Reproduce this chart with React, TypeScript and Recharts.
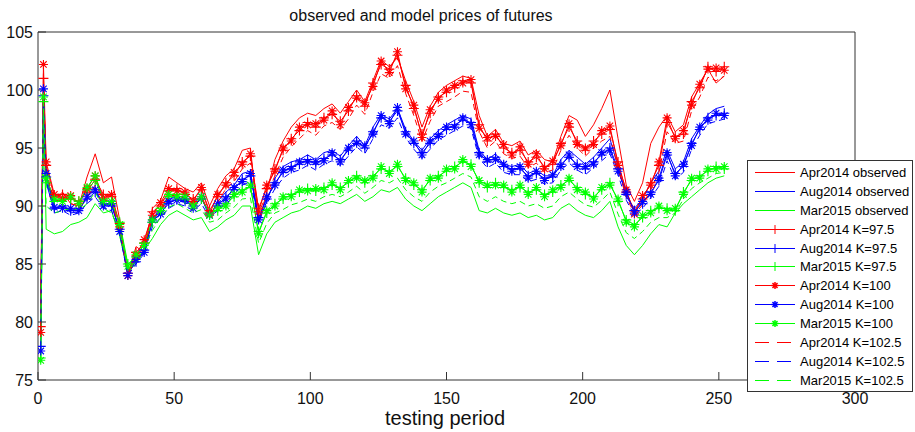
import React from 'react';
import { LineChart, Line, XAxis, YAxis, Legend } from 'recharts';

const days = [1,2,3,6,9,12,15,18,21,24,27,30,33,36,39,42,45,48,51,54,57,60,63,66,69,72,75,78,81,84,87,90,93,96,99,102,105,108,111,114,117,120,123,126,129,132,135,138,141,144,147,150,153,156,159,162,165,168,171,174,177,180,183,186,189,192,195,198,201,204,207,210,213,216,219,222,225,228,231,234,237,240,243,246,249,252];

const aprObserved = [
82.5,100.5,92.5,90.5,91.2,90.2,90.0,92.5,94.5,92.0,
92.5,88.8,84.0,86.5,86.0,89.8,90.5,92.5,92.0,91.5,
91.2,92.0,90.0,91.5,92.6,93.2,94.8,95.0,88.5,91.2,
94.0,95.6,96.8,97.6,98.0,97.8,98.4,98.8,98.0,99.0,
100.0,99.0,100.8,102.6,102.0,102.8,100.8,99.0,96.8,98.6,
99.8,100.4,100.8,101.2,101.0,97.8,96.0,96.6,95.4,95.2,
95.6,94.4,94.8,94.0,93.8,96.0,97.8,97.4,96.0,97.0,
98.4,100.0,95.8,91.8,90.4,92.0,95.4,96.8,97.8,96.4,
97.0,99.4,100.6,101.8,100.6,101.2];
const augObserved = [
81.5,99.2,92.0,89.6,90.2,89.4,89.5,90.9,91.6,90.0,
90.4,87.6,84.4,85.6,86.0,88.9,89.6,90.6,90.9,90.2,
90.3,90.8,89.0,90.4,91.2,91.8,92.8,93.0,88.6,90.4,
92.4,93.4,93.8,94.0,94.4,94.0,94.6,94.8,94.3,95.2,
96.0,95.2,96.8,97.9,97.5,98.4,96.6,95.6,94.8,95.8,
96.5,97.0,97.4,97.8,97.5,94.8,94.0,94.5,93.6,93.4,
93.6,92.8,93.1,92.6,92.6,94.0,94.8,94.2,93.6,94.2,
95.0,95.8,93.4,90.8,89.8,90.6,92.0,93.0,94.8,93.2,
93.8,95.8,96.9,97.9,98.4,98.6];
const marObserved = [
80.5,99.8,88.0,87.6,87.8,88.4,88.6,89.0,90.2,89.4,
89.6,87.4,84.4,85.0,86.2,87.2,88.4,89.2,89.6,89.2,
88.8,89.0,87.8,88.2,88.8,89.2,90.0,90.0,85.8,87.6,
88.6,89.0,89.4,89.6,90.0,89.8,90.2,90.4,90.2,90.6,
91.0,90.4,90.8,91.4,91.2,91.6,90.6,90.0,89.6,90.2,
90.8,91.2,91.6,92.0,91.6,89.6,89.4,89.8,89.4,89.2,
89.4,89.0,89.2,88.8,89.0,89.8,90.2,89.6,89.2,89.0,
89.6,90.4,88.2,86.6,85.8,86.6,87.6,88.4,88.2,89.4,
90.2,90.8,91.4,92.0,92.4,92.6];
const aprK975 = [
79.6,101.0,93.5,90.8,91.0,90.6,90.4,91.2,92.3,91.0,
90.8,88.5,84.2,86.0,86.8,89.5,90.0,91.3,91.5,91.0,
90.6,91.4,89.6,90.8,92.0,92.6,93.8,94.3,89.8,91.5,
93.2,94.8,95.8,96.5,97.2,96.8,97.6,97.9,97.3,98.2,
99.5,98.6,100.6,102.2,101.8,103.0,100.4,98.4,96.2,98.0,
99.4,99.8,100.2,100.8,100.6,97.0,95.6,96.2,95.0,94.6,
94.8,93.8,94.2,93.4,93.6,95.4,96.8,95.6,94.8,95.6,
96.2,96.6,93.8,91.2,89.6,90.6,92.0,93.5,97.2,96.0,
96.2,99.0,100.2,102.0,101.6,102.0];
const augK975 = [
77.9,99.5,92.5,89.8,90.0,89.6,89.8,90.6,91.2,90.2,
90.0,88.0,84.2,85.2,86.2,88.6,89.4,90.2,90.6,90.4,
90.0,90.6,89.4,90.0,90.8,91.4,92.3,92.6,89.0,90.6,
92.0,92.9,93.4,93.6,94.0,93.6,94.1,94.4,94.0,94.8,
95.6,95.0,96.4,97.6,97.3,98.2,96.4,95.4,94.6,95.4,
96.2,96.6,97.0,97.4,97.2,94.6,93.8,94.2,93.4,93.2,
93.2,92.6,92.8,92.4,92.5,93.6,94.2,93.6,93.2,93.8,
94.4,95.0,93.2,91.0,89.6,90.2,91.2,92.2,94.4,92.8,
93.4,95.4,96.6,97.6,97.8,98.0];
const marK975 = [
76.9,99.0,92.0,90.4,90.6,90.6,90.4,91.4,92.2,90.6,
90.2,88.6,85.0,85.6,86.8,88.6,89.8,90.8,91.0,90.6,
90.2,90.6,89.4,89.6,90.2,90.8,91.4,91.6,87.8,89.4,
90.2,90.6,91.0,91.2,91.5,91.3,91.6,91.8,91.6,92.0,
92.6,92.0,92.6,93.2,93.0,93.4,92.4,91.8,91.4,92.2,
92.6,93.0,93.4,93.8,93.6,92.0,91.6,92.0,91.6,91.4,
91.6,91.2,91.4,91.0,91.2,91.8,92.2,91.6,91.0,90.8,
91.4,92.0,90.4,88.8,88.4,89.0,89.6,89.8,89.8,89.6,
91.2,92.2,92.6,93.0,93.4,93.2];
const aprK100 = [
79.1,102.2,93.8,91.0,90.7,90.9,90.2,91.5,92.6,90.7,
91.0,88.2,84.0,85.7,87.1,89.2,90.3,91.5,91.3,91.2,
90.4,91.6,89.3,91.0,91.8,92.9,93.6,94.5,89.5,91.8,
93.0,95.0,95.6,96.8,97.0,97.1,97.4,98.2,97.0,98.5,
99.3,98.9,100.3,102.5,101.5,103.3,100.1,98.7,95.9,98.3,
99.2,100.0,100.4,100.6,100.9,96.7,95.9,96.0,95.3,94.4,
95.1,93.6,94.5,93.2,93.9,95.2,97.1,95.3,95.0,95.3,
96.5,96.9,93.5,91.4,89.3,90.9,91.8,93.8,97.6,95.8,
96.5,98.7,100.5,101.8,101.9,101.7];
const augK100 = [
77.5,100.1,92.8,89.9,89.8,89.8,89.6,90.8,91.4,90.0,
90.2,87.8,84.0,85.4,86.0,88.8,89.3,90.4,90.5,90.6,
89.8,90.8,89.2,90.2,90.6,91.6,92.1,92.8,88.8,90.8,
91.8,93.1,93.2,93.8,93.8,93.8,93.9,94.6,93.8,95.0,
95.4,95.2,96.2,97.8,97.1,98.5,96.2,95.6,94.4,95.6,
96.0,96.8,96.8,97.6,97.0,94.4,94.0,94.0,93.6,93.0,
93.4,92.4,93.0,92.2,92.7,93.4,94.4,93.4,93.4,93.6,
94.6,94.8,93.0,91.2,89.4,90.4,91.0,92.4,94.6,92.6,
93.6,95.2,96.8,97.4,98.0,97.8];
const marK100 = [
76.7,99.4,92.4,90.6,90.4,90.8,90.2,91.6,92.6,90.4,
90.4,88.4,84.8,85.8,86.6,88.8,89.6,91.0,90.8,90.8,
90.0,90.8,89.2,89.8,90.0,91.0,91.2,91.8,87.6,89.6,
90.0,90.8,90.8,91.4,91.3,91.5,91.4,92.0,91.4,92.2,
92.4,92.2,92.4,93.4,92.8,93.6,92.2,92.0,91.2,92.4,
92.4,93.2,93.2,94.0,93.4,92.2,91.8,91.8,91.8,91.2,
91.8,91.0,91.6,90.8,91.4,91.6,92.4,91.4,91.2,90.6,
91.6,91.8,90.6,88.6,88.2,89.2,89.4,90.0,89.6,89.8,
91.0,92.4,92.4,93.2,93.2,93.4];
const aprK1025 = [
80.6,100.2,93.0,90.4,90.6,90.2,90.0,90.8,91.8,90.6,
90.4,88.0,84.0,85.6,86.4,89.0,89.6,90.8,91.0,90.6,
90.2,90.9,89.2,90.3,91.5,92.1,93.2,93.7,89.4,91.0,
92.6,94.2,95.1,95.8,96.5,96.1,96.9,97.2,96.6,97.5,
98.7,97.9,99.8,101.4,101.0,102.1,99.7,97.8,95.6,97.3,
98.6,99.0,99.4,99.9,99.8,96.4,95.0,95.6,94.5,94.1,
94.3,93.3,93.7,92.9,93.1,94.8,96.1,95.0,94.3,95.0,
95.6,96.0,93.3,90.8,89.3,90.1,91.4,92.9,96.4,95.4,
95.6,98.2,99.4,101.1,100.8,101.2];
const augK1025 = [
79.0,98.8,92.2,89.4,89.6,89.2,89.4,90.2,90.8,89.8,
89.6,87.6,84.0,85.0,85.9,88.2,89.0,89.8,90.2,90.0,
89.6,90.2,89.0,89.6,90.4,91.0,91.8,92.1,88.7,90.2,
91.5,92.4,92.9,93.1,93.5,93.1,93.6,93.9,93.5,94.3,
95.1,94.5,95.8,97.0,96.7,97.6,95.9,94.9,94.1,94.9,
95.7,96.1,96.5,96.9,96.7,94.1,93.3,93.7,92.9,92.7,
92.7,92.1,92.3,91.9,92.0,93.1,93.7,93.1,92.7,93.3,
93.9,94.5,92.7,90.5,89.2,89.8,90.7,91.7,93.9,92.3,
92.9,94.9,96.1,97.1,97.3,97.5];
const marK1025 = [
78.5,98.4,90.0,89.4,89.6,89.8,89.6,90.2,91.2,89.8,
89.4,87.8,84.6,85.2,86.4,87.9,89.0,89.9,90.2,89.8,
89.4,89.7,88.6,88.8,89.4,89.9,90.6,90.7,86.8,88.5,
89.4,89.7,90.1,90.3,90.6,90.4,90.8,91.0,90.8,91.2,
91.7,91.1,91.6,92.2,92.0,92.4,91.4,90.8,90.4,91.2,
91.7,92.0,92.4,92.8,92.5,90.8,90.4,90.8,90.4,90.2,
90.4,90.0,90.2,89.8,90.0,90.8,91.2,90.6,90.1,89.9,
90.5,91.2,89.3,87.7,87.2,87.8,88.6,89.0,89.0,89.4,
90.6,91.5,92.0,92.4,92.8,92.9];

const xTicks = [0, 50, 100, 150, 200, 250, 300];
const yTicks = [75, 80, 85, 90, 95, 100, 105];
const titleText = 'observed and model prices of futures';
const xLabelText = 'testing period';

const RED = '#ff0000';
const BLUE = '#0000ff';
const GREEN = '#00ff00';
const FONT = "'Liberation Sans', Arial, Helvetica, sans-serif";

type Kind = 'solid' | 'plus' | 'star' | 'dash';
const SERIES: { key: string; name: string; color: string; kind: Kind; values: number[] }[] = [
  { key: 'aprObs', name: 'Apr2014 observed', color: RED, kind: 'solid', values: aprObserved },
  { key: 'augObs', name: 'Aug2014 observed', color: BLUE, kind: 'solid', values: augObserved },
  { key: 'marObs', name: 'Mar2015 observed', color: GREEN, kind: 'solid', values: marObserved },
  { key: 'apr975', name: 'Apr2014 K=97.5', color: RED, kind: 'plus', values: aprK975 },
  { key: 'aug975', name: 'Aug2014 K=97.5', color: BLUE, kind: 'plus', values: augK975 },
  { key: 'mar975', name: 'Mar2015 K=97.5', color: GREEN, kind: 'plus', values: marK975 },
  { key: 'apr100', name: 'Apr2014 K=100', color: RED, kind: 'star', values: aprK100 },
  { key: 'aug100', name: 'Aug2014 K=100', color: BLUE, kind: 'star', values: augK100 },
  { key: 'mar100', name: 'Mar2015 K=100', color: GREEN, kind: 'star', values: marK100 },
  { key: 'apr1025', name: 'Apr2014 K=102.5', color: RED, kind: 'dash', values: aprK1025 },
  { key: 'aug1025', name: 'Aug2014 K=102.5', color: BLUE, kind: 'dash', values: augK1025 },
  { key: 'mar1025', name: 'Mar2015 K=102.5', color: GREEN, kind: 'dash', values: marK1025 },
];

const data = days.map((d, i) => {
  const row: Record<string, number> = { day: d };
  SERIES.forEach((s) => { row[s.key] = s.values[i]; });
  return row;
});

const plusPath = (cx: number, cy: number, r: number) =>
  `M${cx - r},${cy}H${cx + r}M${cx},${cy - r}V${cy + r}`;
const starPath = (cx: number, cy: number, r: number) => {
  const d = r * 0.72;
  return `${plusPath(cx, cy, r)}M${cx - d},${cy - d}L${cx + d},${cy + d}M${cx - d},${cy + d}L${cx + d},${cy - d}`;
};

const makeDot = (color: string, kind: Kind) => (props: any) => {
  const { cx, cy, index } = props;
  if (cx == null || cy == null) return <g key={`e-${index}`} />;
  const d = kind === 'plus' ? plusPath(cx, cy, 5) : starPath(cx, cy, 4.5);
  return <path key={`m-${index}`} d={d} stroke={color} strokeWidth={1.1} fill="none" />;
};

const renderLegend = () => (
  <div
    style={{
      width: 164,
      height: 228,
      border: '1px solid #333',
      background: '#fff',
      paddingTop: 2,
      boxSizing: 'content-box',
      fontFamily: FONT,
      fontSize: 13,
      color: '#000',
    }}
  >
    {SERIES.map((s) => (
      <div key={s.key} style={{ height: 18.9, display: 'flex', alignItems: 'center', whiteSpace: 'nowrap' }}>
        <svg width={52} height={19} style={{ display: 'block', flex: 'none' }}>
          <line
            x1={7}
            x2={47}
            y1={9.5}
            y2={9.5}
            stroke={s.color}
            strokeWidth={1}
            strokeDasharray={s.kind === 'dash' ? '14 8' : undefined}
          />
          {s.kind === 'plus' && <path d={plusPath(27, 9.5, 4.5)} stroke={s.color} fill="none" />}
          {s.kind === 'star' && <path d={starPath(27, 9.5, 3.5)} stroke={s.color} strokeWidth={1.5} fill="none" />}
        </svg>
        <span style={{ lineHeight: '19px' }}>{s.name}</span>
      </div>
    ))}
  </div>
);

export default function App() {
  return (
    <div style={{ position: 'absolute', left: 0, top: 0, width: 915, height: 432, background: '#fff' }}>
      <LineChart width={915} height={432} data={data} margin={{ top: 31, right: 59, bottom: 0, left: 0 }}>
        <XAxis
          xAxisId="b"
          dataKey="day"
          type="number"
          domain={[0, 300]}
          ticks={xTicks}
          interval={0}
          allowDataOverflow
          height={52}
          tickSize={-8}
          tickMargin={21}
          axisLine={{ stroke: '#333' }}
          tickLine={{ stroke: '#333' }}
          tick={{ fill: '#111', fontSize: 16, fontFamily: FONT }}
        />
        <XAxis
          xAxisId="t"
          orientation="top"
          dataKey="day"
          type="number"
          domain={[0, 300]}
          ticks={xTicks}
          interval={0}
          allowDataOverflow
          height={1}
          tickSize={-8}
          axisLine={{ stroke: '#333' }}
          tickLine={{ stroke: '#333' }}
          tick={false}
        />
        <YAxis
          yAxisId="l"
          type="number"
          domain={[75, 105]}
          ticks={yTicks}
          interval={0}
          allowDataOverflow
          width={38}
          tickSize={-8}
          tickMargin={13}
          axisLine={{ stroke: '#333' }}
          tickLine={{ stroke: '#333' }}
          tick={{ fill: '#111', fontSize: 16, fontFamily: FONT }}
        />
        <YAxis
          yAxisId="r"
          orientation="right"
          type="number"
          domain={[75, 105]}
          ticks={yTicks}
          interval={0}
          allowDataOverflow
          width={1}
          tickSize={-8}
          axisLine={{ stroke: '#333' }}
          tickLine={{ stroke: '#333' }}
          tick={false}
        />
        {SERIES.map((s) => (
          <Line
            key={s.key}
            xAxisId="b"
            yAxisId="l"
            type="linear"
            dataKey={s.key}
            name={s.name}
            stroke={s.color}
            strokeWidth={1}
            strokeDasharray={s.kind === 'dash' ? '6 4' : undefined}
            dot={s.kind === 'plus' || s.kind === 'star' ? makeDot(s.color, s.kind) : false}
            activeDot={false}
            isAnimationActive={false}
          />
        ))}
        <Legend
          layout="vertical"
          align="center"
          verticalAlign="middle"
          content={renderLegend}
          wrapperStyle={{ left: 747, top: 160, width: 166, height: 230 }}
        />
        <text x={421} y={21} textAnchor="middle" fontSize={16} fontFamily={FONT} fill="#111">
          {titleText}
        </text>
        <text x={445} y={425} textAnchor="middle" fontSize={20} fontFamily={FONT} fill="#111">
          {xLabelText}
        </text>
      </LineChart>
    </div>
  );
}
